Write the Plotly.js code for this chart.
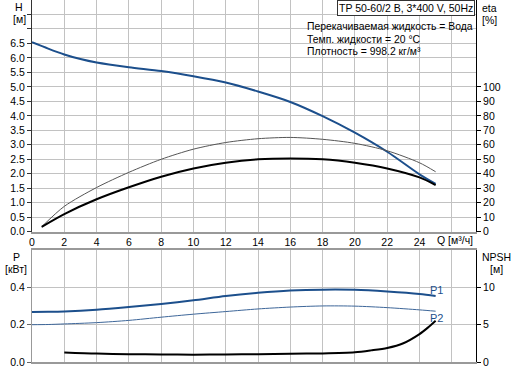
<!DOCTYPE html>
<html>
<head>
<meta charset="utf-8">
<script src="https://cdn.plot.ly/plotly-3.0.1.min.js"></script>
<style>html,body{margin:0;padding:0;background:#fff;}#chart{width:516px;height:371px;}</style>
</head>
<body>
<div id="chart"></div>
<script>
// ---- data ----
const qH    = [0, 1, 2, 3, 4, 6, 8, 10, 12, 14, 16, 18, 20, 22, 24, 25];
const headH = [6.54, 6.32, 6.12, 5.96, 5.84, 5.68, 5.55, 5.37, 5.15, 4.84, 4.48, 3.99, 3.42, 2.76, 1.98, 1.65];

const qEta      = [0.6, 2, 4, 6, 8, 10, 12, 14, 16, 18, 20, 22, 24, 25];
const etaPump   = [3.4, 17.5, 30.5, 41.0, 50.0, 57.0, 61.6, 64.2, 65.1, 63.8, 61.0, 55.9, 47.6, 41.4];
const etaTotal  = [3.4, 12.2, 22.4, 30.7, 38.0, 43.7, 47.6, 50.0, 50.6, 50.0, 47.6, 43.7, 37.5, 32.2];

const qP   = [0, 1, 2, 4, 6, 8, 10, 12, 14, 16, 18, 20, 22, 24, 25];
const powP1 = [0.267, 0.268, 0.270, 0.279, 0.293, 0.309, 0.329, 0.352, 0.369, 0.381, 0.386, 0.385, 0.376, 0.363, 0.352];
const powP2 = [0.199, 0.200, 0.203, 0.210, 0.222, 0.239, 0.255, 0.269, 0.283, 0.293, 0.299, 0.298, 0.290, 0.278, 0.271];

const qNpsh = [2, 4, 6, 8, 10, 12, 14, 16, 18, 20, 21, 22, 23, 24, 24.5, 25];
const npsh  = [1.28, 1.12, 1.04, 1.0, 0.98, 1.0, 1.05, 1.1, 1.15, 1.3, 1.55, 1.87, 2.5, 3.72, 4.55, 5.5];

const qTicks   = [0, 2, 4, 6, 8, 10, 12, 14, 16, 18, 20, 22, 24, 26];
const hTicks   = [0, 0.5, 1, 1.5, 2, 2.5, 3, 3.5, 4, 4.5, 5, 5.5, 6, 6.5, 7, 7.5];
const etaTicks = [0, 10, 20, 30, 40, 50, 60, 70, 80, 90, 100];
const pTicks   = [0, 0.2, 0.4];
const npshTicks = [0, 5, 10];

const titleText = "TP 50-60/2 B, 3*400 V, 50Hz";
const infoLines = ["Перекачиваемая жидкость = Вода", "Темп. жидкости = 20 °C", "Плотность = 998.2 кг/м³"];

// ---- layout helpers (pixel -> paper) ----
const W = 516, H = 371, ML = 32, MR = 40, MT = 0, MB = 9;
const PW = W - ML - MR, PH = H - MT - MB;
const px = v => (v - ML) / PW;
const py = v => (H - MB - v) / PH;

const FONT = 'Liberation Sans, Arial, sans-serif';
const BLUE = '#1c4f8c';

const traces = [
  {x: qH, y: headH, xaxis: 'x', yaxis: 'y', mode: 'lines', line: {color: BLUE, width: 2, shape: 'spline', smoothing: 0.8}, hoverinfo: 'skip'},
  {x: qEta, y: etaPump, xaxis: 'x', yaxis: 'y3', mode: 'lines', line: {color: '#555', width: 1, shape: 'spline', smoothing: 0.8}, hoverinfo: 'skip'},
  {x: qEta, y: etaTotal, xaxis: 'x', yaxis: 'y3', mode: 'lines', line: {color: '#000', width: 2, shape: 'spline', smoothing: 0.8}, hoverinfo: 'skip'},
  {x: qP, y: powP1, xaxis: 'x2', yaxis: 'y2', mode: 'lines', line: {color: BLUE, width: 2, shape: 'spline', smoothing: 0.8}, hoverinfo: 'skip'},
  {x: qP, y: powP2, xaxis: 'x2', yaxis: 'y2', mode: 'lines', line: {color: '#3d6699', width: 1, shape: 'spline', smoothing: 0.8}, hoverinfo: 'skip'},
  {x: qNpsh, y: npsh, xaxis: 'x2', yaxis: 'y4', mode: 'lines', line: {color: '#000', width: 2, shape: 'spline', smoothing: 0.8}, hoverinfo: 'skip'}
];

const gridC = '#c2c2c2';
const tickFont = {family: FONT, size: 10.5, color: '#000'};
const txtFont = {family: FONT, size: 10.5, color: '#000'};
const infoFont = {family: FONT, size: 10.4, color: '#000'};

const layout = {
  width: W, height: H,
  margin: {l: ML, r: MR, t: MT, b: MB, pad: 0},
  paper_bgcolor: '#fff', plot_bgcolor: '#fff',
  showlegend: false,
  font: txtFont,
  xaxis: {
    domain: [0, 1], range: [0, 27.5], anchor: 'y',
    tickmode: 'array', tickvals: qTicks, ticktext: qTicks.map(v => v === 26 ? '' : String(v)),
    showgrid: true, gridcolor: gridC, gridwidth: 1, zeroline: false,
    showline: true, linecolor: '#999', linewidth: 2, ticks: '', tickfont: tickFont
  },
  yaxis: {
    domain: [py(231.7), 1], range: [0, 8], anchor: 'x',
    tickmode: 'array', tickvals: hTicks, ticktext: hTicks.map(v => v >= 7 ? '' : v.toFixed(1)),
    showgrid: true, gridcolor: gridC, gridwidth: 1, zeroline: false,
    showline: true, linecolor: '#333', linewidth: 1, ticks: 'outside', ticklen: 4, tickcolor: '#333', tickfont: tickFont
  },
  yaxis3: {
    overlaying: 'y', side: 'right', anchor: 'x', range: [0, 160],
    tickmode: 'array', tickvals: etaTicks, ticktext: etaTicks.map(String),
    showgrid: false, zeroline: false,
    showline: true, linecolor: '#000', linewidth: 1, ticks: 'outside', ticklen: 4, tickcolor: '#000', tickfont: tickFont
  },
  xaxis2: {
    domain: [0, 1], range: [0, 27.5], anchor: 'y2',
    tickmode: 'array', tickvals: qTicks, showticklabels: false,
    showgrid: true, gridcolor: gridC, gridwidth: 1, zeroline: false,
    showline: true, mirror: true, linecolor: '#999', linewidth: 2, ticks: ''
  },
  yaxis2: {
    domain: [0, py(249.5)], range: [0, 0.6], anchor: 'x2',
    tickmode: 'array', tickvals: pTicks, ticktext: pTicks.map(v => v.toFixed(1)),
    showgrid: true, gridcolor: gridC, gridwidth: 1, zeroline: false,
    showline: true, linecolor: '#999', linewidth: 1, ticks: 'outside', ticklen: 4, tickcolor: '#666', tickfont: tickFont
  },
  yaxis4: {
    overlaying: 'y2', side: 'right', anchor: 'x2', range: [0, 15],
    tickmode: 'array', tickvals: npshTicks, ticktext: npshTicks.map(String),
    showgrid: false, zeroline: false,
    showline: true, linecolor: '#000', linewidth: 1, ticks: 'outside', ticklen: 4, tickcolor: '#000', tickfont: tickFont
  },
  shapes: [
    {type: 'rect', xref: 'paper', yref: 'paper', x0: px(304), x1: px(475), y0: py(58), y1: py(18),
     fillcolor: '#fff', line: {width: 0}, layer: 'between'}
  ],
  annotations: [
    {xref: 'paper', yref: 'paper', x: px(337), y: py(0.5), xanchor: 'left', yanchor: 'top',
     text: titleText, showarrow: false, bgcolor: '#fff', bordercolor: '#333', borderwidth: 1, borderpad: 1,
     font: txtFont},
    ...infoLines.map((t, i) => ({xref: 'paper', yref: 'paper', x: px(305), y: py(27 + i * 12.5),
      xanchor: 'left', yanchor: 'middle', text: t, showarrow: false, font: infoFont})),
    {xref: 'paper', yref: 'paper', x: px(19), y: py(7), xanchor: 'center', yanchor: 'middle', text: 'H', showarrow: false},
    {xref: 'paper', yref: 'paper', x: px(19.5), y: py(19), xanchor: 'center', yanchor: 'middle', text: '[м]', showarrow: false},
    {xref: 'paper', yref: 'paper', x: px(490), y: py(8), xanchor: 'center', yanchor: 'middle', text: 'eta', showarrow: false},
    {xref: 'paper', yref: 'paper', x: px(489), y: py(19.5), xanchor: 'center', yanchor: 'middle', text: '[%]', showarrow: false},
    {xref: 'paper', yref: 'paper', x: px(455), y: py(240.5), xanchor: 'center', yanchor: 'middle', text: 'Q [м³/ч]', showarrow: false},
    {xref: 'paper', yref: 'paper', x: px(16), y: py(257), xanchor: 'center', yanchor: 'middle', text: 'P', showarrow: false},
    {xref: 'paper', yref: 'paper', x: px(15.5), y: py(269), xanchor: 'center', yanchor: 'middle', text: '[кВт]', showarrow: false},
    {xref: 'paper', yref: 'paper', x: px(496), y: py(257), xanchor: 'center', yanchor: 'middle', text: 'NPSH', showarrow: false},
    {xref: 'paper', yref: 'paper', x: px(496), y: py(269), xanchor: 'center', yanchor: 'middle', text: '[м]', showarrow: false},
    {xref: 'paper', yref: 'paper', x: px(436.5), y: py(290), xanchor: 'center', yanchor: 'middle', text: 'P1', showarrow: false,
     font: {family: FONT, size: 11, color: BLUE}},
    {xref: 'paper', yref: 'paper', x: px(436.5), y: py(318), xanchor: 'center', yanchor: 'middle', text: 'P2', showarrow: false,
     font: {family: FONT, size: 11, color: BLUE}}
  ]
};

Plotly.newPlot('chart', traces, layout, {staticPlot: true, displayModeBar: false});
</script>
</body>
</html>
